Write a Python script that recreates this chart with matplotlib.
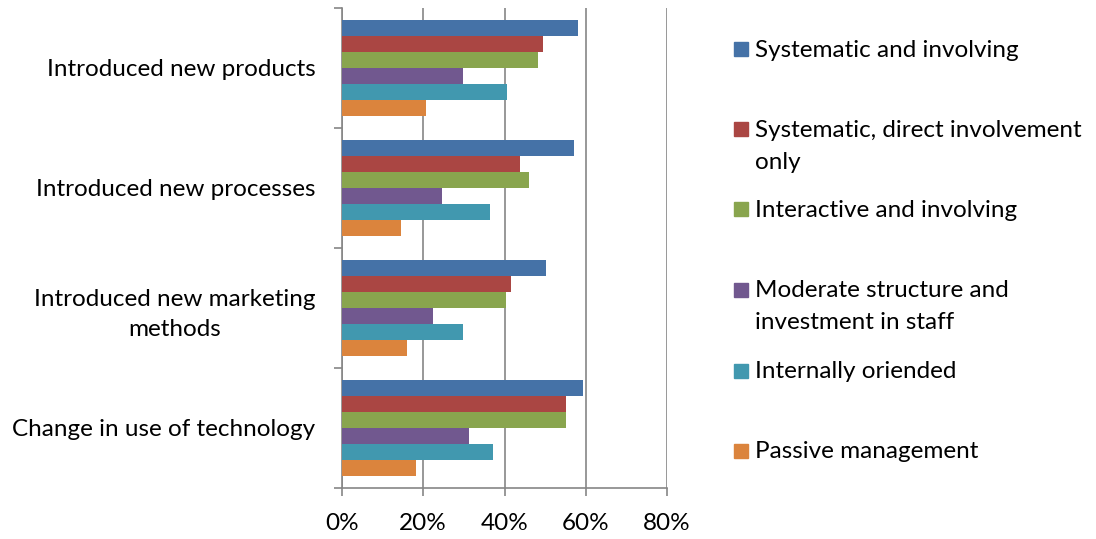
import numpy as np
import matplotlib.pyplot as plt

plt.rcParams['font.family'] = ['Lato', 'DejaVu Sans']

categories = ['Introduced new products', 'Introduced new processes',
              'Introduced new marketing\nmethods', 'Change in use of technology']
series = ['Systematic and involving', 'Systematic, direct involvement\nonly',
          'Interactive and involving', 'Moderate structure and\ninvestment in staff',
          'Internally oriended', 'Passive management']
colors = ['#4572A7', '#AA4643', '#89A54E', '#71588F', '#4198AF', '#DB843D']

systematic_involving = [58.1, 57.0, 50.1, 59.4]
systematic_direct = [49.5, 43.7, 41.7, 55.2]
interactive = [48.2, 46.0, 40.4, 55.1]
moderate = [29.8, 24.7, 22.4, 31.2]
internal = [40.7, 36.5, 29.8, 37.1]
passive = [20.6, 14.5, 16.1, 18.3]
values = [systematic_involving, systematic_direct, interactive, moderate, internal, passive]

fig = plt.figure(figsize=(10.96, 5.39), dpi=100)
ax = fig.add_axes([342 / 1096, 1 - 488 / 539, 325 / 1096, 480 / 539])

fs = 17.5
n = len(series)
h = 0.8 / n
y = np.arange(len(categories))
for i, (vals, c) in enumerate(zip(values, colors)):
    ax.barh(y - 0.4 + h * (i + 0.5), vals, height=h, color=c, zorder=3)

ax.set_xlim(0, 80)
ax.set_ylim(3.5, -0.5)
ax.set_xticks([0, 20, 40, 60, 80])
ax.set_xticklabels(['0%', '20%', '40%', '60%', '80%'], fontsize=fs)
ax.set_yticks(np.arange(-0.5, 4, 1))
ax.set_yticklabels([])
ax.set_yticks(y, minor=True)
ax.set_yticklabels(categories, minor=True, fontsize=fs, ha='right',
                   multialignment='center', linespacing=1.5)
ax.tick_params(axis='y', which='minor', length=0, pad=19)
ax.tick_params(axis='y', which='major', length=6, width=1.2, color='#868686', direction='out')
ax.tick_params(axis='x', length=6, width=1.2, color='#868686', direction='out', pad=12)
ax.grid(axis='x', color='#868686', linewidth=1.2, zorder=0)
for s in ['top', 'right']:
    ax.spines[s].set_visible(False)
for s in ['left', 'bottom']:
    ax.spines[s].set_color('#868686')
    ax.spines[s].set_linewidth(1.2)

# legend drawn by hand to follow the uneven Excel spacing
baselines = [56.7, 136.7, 216.7, 297, 378, 458]
line_gap = 32
for lab, c, b in zip(series, colors, baselines):
    fig.patches.append(plt.Rectangle((734 / 1096, 1 - (b - 0.5) / 539), 14 / 1096, 14 / 539,
                                     transform=fig.transFigure, color=c))
    for k, line in enumerate(lab.split('\n')):
        fig.text(755 / 1096, 1 - (b + k * line_gap) / 539, line, fontsize=fs,
                 va='baseline', ha='left')

fig.savefig('out.png', dpi=100)
